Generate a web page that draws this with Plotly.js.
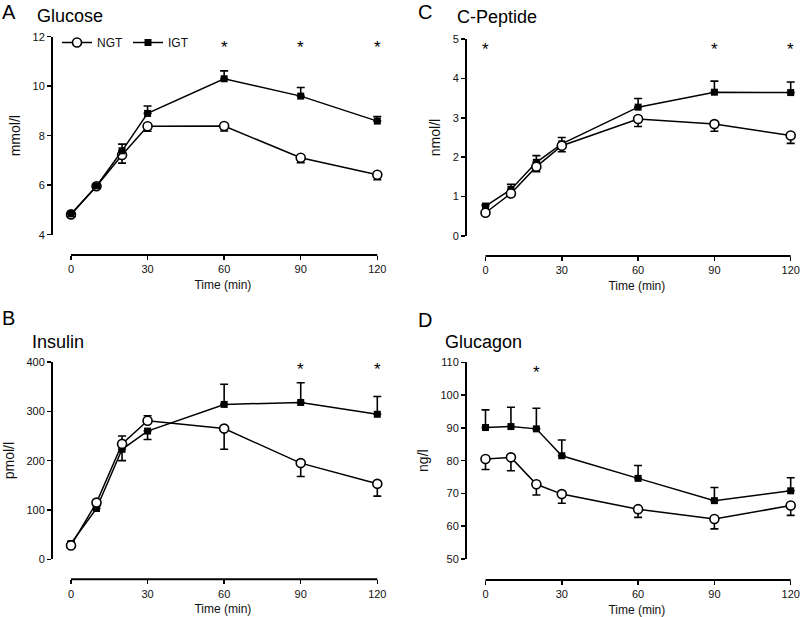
<!DOCTYPE html>
<html><head><meta charset="utf-8">
<script src="https://cdn.plot.ly/plotly-3.0.1.min.js"></script>
<style>html,body{margin:0;padding:0;background:#fff}#chart{width:800px;height:617px}</style>
</head><body><div id="chart"></div>
<script>
const time = [0, 10, 20, 30, 60, 90, 120];
const xTickVals = [0, 30, 60, 90, 120];
const seriesNames = ["NGT", "IGT"];

// A: Glucose (mmol/l)
const glucoseNGT = [4.82, 5.96, 7.22, 8.38, 8.39, 7.11, 6.42];
const glucoseNGTUp = [0, 0, 0, 0, 0, 0, 0];
const glucoseNGTDown = [0.05, 0.05, 0.33, 0.2, 0.2, 0.2, 0.2];
const glucoseIGT = [4.84, 5.97, 7.39, 8.90, 10.30, 9.60, 8.59];
const glucoseIGTUp = [0.05, 0.05, 0.27, 0.3, 0.32, 0.35, 0.18];
const glucoseIGTDown = [0, 0, 0, 0, 0, 0, 0];
const glucoseStarTimes = [60, 90, 120];
const glucoseStarLevel = 11.7;

// B: Insulin (pmol/l)
const insulinNGT = [28, 115, 234, 281, 265, 195, 153];
const insulinNGTUp = [0, 0, 16, 10, 0, 0, 0];
const insulinNGTDown = [3, 4, 0, 0, 42, 27, 25];
const insulinIGT = [32, 103, 223, 260, 314, 318, 294];
const insulinIGTUp = [3, 4, 0, 0, 41, 40, 36];
const insulinIGTDown = [0, 0, 23, 17, 0, 0, 0];
const insulinStarTimes = [90, 120];
const insulinStarLevel = 390;

// C: C-Peptide (nmol/l)
const cpepNGT = [0.59, 1.08, 1.76, 2.29, 2.97, 2.84, 2.55];
const cpepNGTUp = [0, 0, 0, 0, 0, 0, 0];
const cpepNGTDown = [0.03, 0.05, 0.13, 0.15, 0.19, 0.18, 0.2];
const cpepIGT = [0.76, 1.18, 1.87, 2.34, 3.27, 3.65, 3.64];
const cpepIGTUp = [0.03, 0.13, 0.17, 0.16, 0.22, 0.28, 0.27];
const cpepIGTDown = [0, 0, 0, 0, 0, 0, 0];
const cpepStarTimes = [0, 90, 120];
const cpepStarLevel = 4.8;

// D: Glucagon (ng/l)
const glucagonNGT = [80.5, 81.0, 72.8, 69.8, 65.2, 62.2, 66.3];
const glucagonNGTUp = [0, 0, 0, 0, 0, 0, 0];
const glucagonNGTDown = [3.2, 4.1, 3.3, 2.8, 2.5, 3.0, 3.0];
const glucagonIGT = [90.1, 90.4, 89.7, 81.5, 74.6, 67.8, 70.8];
const glucagonIGTUp = [5.4, 5.9, 6.3, 4.8, 3.9, 4.0, 4.0];
const glucagonIGTDown = [0, 0, 0, 0, 0, 0, 0];
const glucagonStarTimes = [20];
const glucagonStarLevel = 107.7;

const W = 800, H = 617;
const px = v => v / W;
const py = v => (H - v) / H;
const X_LO = -3, X_HI = 122;   // small padding so edge error caps are not clipped

const panels = [
  {xa: "x", ya: "y", letter: "A", title: "Glucose", unit: "mmol/l", range: [4, 12], dtick: 2,
   ngt: glucoseNGT, ngtUp: glucoseNGTUp, ngtDown: glucoseNGTDown,
   igt: glucoseIGT, igtUp: glucoseIGTUp, igtDown: glucoseIGTDown,
   stars: glucoseStarTimes, starY: glucoseStarLevel,
   x0: 71, x120: 377.3, ytop: 36.7, ybot: 234.7, xline: 255, yline: 52,
   letterPos: [0, 12], titlePos: [35, 16]},
  {xa: "x2", ya: "y2", letter: "B", title: "Insulin", unit: "pmol/l", range: [0, 400], dtick: 100,
   ngt: insulinNGT, ngtUp: insulinNGTUp, ngtDown: insulinNGTDown,
   igt: insulinIGT, igtUp: insulinIGTUp, igtDown: insulinIGTDown,
   stars: insulinStarTimes, starY: insulinStarLevel,
   x0: 71, x120: 377.3, ytop: 362, ybot: 559.3, xline: 579.3, yline: 52,
   letterPos: [0, 318], titlePos: [30, 342]},
  {xa: "x3", ya: "y3", letter: "C", title: "C-Peptide", unit: "nmol/l", range: [0, 5], dtick: 1,
   ngt: cpepNGT, ngtUp: cpepNGTUp, ngtDown: cpepNGTDown,
   igt: cpepIGT, igtUp: cpepIGTUp, igtDown: cpepIGTDown,
   stars: cpepStarTimes, starY: cpepStarLevel,
   x0: 485.5, x120: 790.7, ytop: 39, ybot: 236, xline: 256, yline: 466,
   letterPos: [416, 12], titlePos: [455, 17]},
  {xa: "x4", ya: "y4", letter: "D", title: "Glucagon", unit: "ng/l", range: [50, 110], dtick: 10,
   ngt: glucagonNGT, ngtUp: glucagonNGTUp, ngtDown: glucagonNGTDown,
   igt: glucagonIGT, igtUp: glucagonIGTUp, igtDown: glucagonIGTDown,
   stars: glucagonStarTimes, starY: glucagonStarLevel,
   x0: 485.5, x120: 790.7, ytop: 362.3, ybot: 559, xline: 580, yline: 466,
   letterPos: [416, 320], titlePos: [443, 342]}
];

const FONT = "Liberation Sans, Arial, sans-serif";
const data = [];
const layout = {
  width: W, height: H,
  margin: {l: 0, r: 0, t: 0, b: 0},
  paper_bgcolor: "#fff", plot_bgcolor: "rgba(0,0,0,0)",
  font: {family: FONT, color: "#111", size: 11},
  showlegend: true,
  legend: {orientation: "h", x: px(57), y: py(28), xanchor: "left", yanchor: "top",
           font: {size: 12, family: FONT, color: "#111"}, bgcolor: "rgba(0,0,0,0)",
           itemwidth: 30, traceorder: "normal"},
  annotations: [],
  shapes: []
};

panels.forEach((p, i) => {
  const k = i === 0 ? "" : String(i + 1);
  const ppu = (p.x120 - p.x0) / 120;
  data.push({
    type: "scatter", mode: "lines+markers", name: seriesNames[1], x: time, y: p.igt,
    xaxis: p.xa, yaxis: p.ya, cliponaxis: false, showlegend: false,
    line: {color: "#000", width: 1.5},
    marker: {symbol: "square", size: 7, color: "#000", line: {color: "#000", width: 0}},
    error_y: {type: "data", symmetric: false, array: p.igtUp, arrayminus: p.igtDown,
              color: "#000", thickness: 1.6, width: 4}
  });
  data.push({
    type: "scatter", mode: "lines+markers", name: seriesNames[0], x: time, y: p.ngt,
    xaxis: p.xa, yaxis: p.ya, cliponaxis: false, showlegend: false,
    line: {color: "#000", width: 1.5},
    marker: {symbol: "circle", size: 9, color: "#fff", line: {color: "#000", width: 1.6}},
    error_y: {type: "data", symmetric: false, array: p.ngtUp, arrayminus: p.ngtDown,
              color: "#000", thickness: 1.6, width: 4}
  });
  layout["xaxis" + k] = {
    domain: [px(p.x0 + X_LO * ppu), px(p.x0 + X_HI * ppu)], range: [X_LO, X_HI], anchor: "free",
    position: py(p.xline), tickvals: xTickVals, showline: false,
    ticks: "outside", ticklen: 4, tickwidth: 1.5, tickcolor: "#000", showgrid: false, zeroline: false,
    tickfont: {size: 11, family: FONT, color: "#111"},
    title: {text: "Time (min)", font: {size: 12, family: FONT, color: "#111"}, standoff: 6}
  };
  layout.shapes.push({type: "line", xref: p.xa, yref: "paper", x0: 0, x1: 120,
    y0: py(p.xline), y1: py(p.xline), line: {color: "#000", width: 2}});
  layout["yaxis" + k] = {
    domain: [py(p.ybot), py(p.ytop)], range: p.range, dtick: p.dtick, anchor: "free",
    position: px(p.yline), showline: true, linewidth: 2, linecolor: "#000",
    ticks: "outside", ticklen: 4, tickwidth: 1.5, tickcolor: "#000", showgrid: false, zeroline: false,
    tickfont: {size: 11, family: FONT, color: "#111"},
    title: {text: p.unit, font: {size: 14, family: FONT, color: "#111"}, standoff: 8}
  };
  layout.annotations.push({xref: "paper", yref: "paper", x: px(p.letterPos[0]), y: py(p.letterPos[1]),
    xanchor: "left", yanchor: "middle", text: p.letter, showarrow: false,
    font: {size: 20, family: FONT, color: "#000"}});
  layout.annotations.push({xref: "paper", yref: "paper", x: px(p.titlePos[0]), y: py(p.titlePos[1]),
    xanchor: "left", yanchor: "middle", text: p.title, showarrow: false,
    font: {size: 18, family: FONT, color: "#000"}});
  p.stars.forEach(t => {
    layout.annotations.push({xref: p.xa, yref: p.ya, x: t, y: p.starY, text: "*", showarrow: false,
      xanchor: "center", yanchor: "middle", yshift: -3, font: {size: 17, family: FONT, color: "#000"}});
  });
});

// legend entries (panel A series): NGT first, then IGT
data[0].showlegend = true;
data[1].showlegend = true;
data.unshift(data.splice(1, 1)[0]);

Plotly.newPlot("chart", data, layout, {displayModeBar: false, staticPlot: true});
</script>
</body></html>
